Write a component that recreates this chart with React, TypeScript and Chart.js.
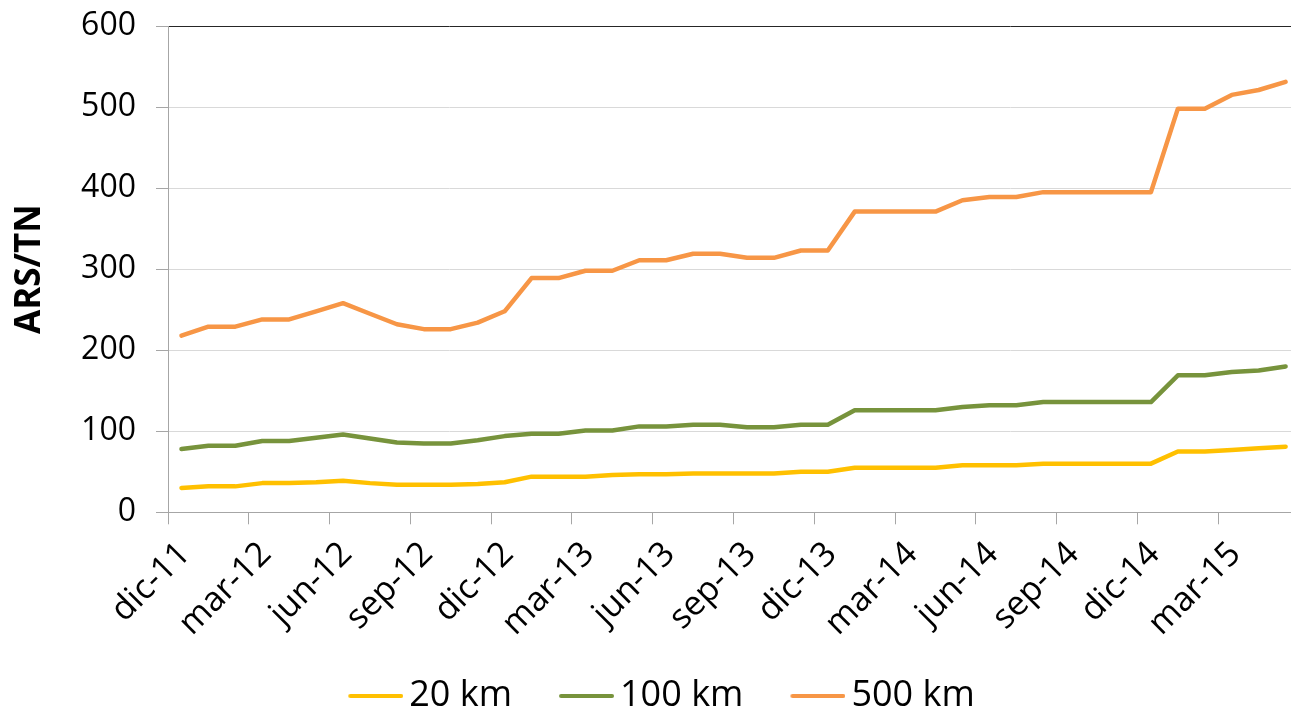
import React, { useEffect, useRef } from "react";
import { Chart, registerables } from "chart.js";

Chart.register(...registerables);

// Months (categories)
const months = [
  "dic-11",
  "ene-12", "feb-12", "mar-12", "abr-12", "may-12", "jun-12",
  "jul-12", "ago-12", "sep-12", "oct-12", "nov-12", "dic-12",
  "ene-13", "feb-13", "mar-13", "abr-13", "may-13", "jun-13",
  "jul-13", "ago-13", "sep-13", "oct-13", "nov-13", "dic-13",
  "ene-14", "feb-14", "mar-14", "abr-14", "may-14", "jun-14",
  "jul-14", "ago-14", "sep-14", "oct-14", "nov-14", "dic-14",
  "ene-15", "feb-15", "mar-15", "abr-15", "may-15",
];

// Series values (ARS/TN)
const km20 = [
  30, 32, 32, 36, 36, 37, 39, 36, 34, 34, 34, 35, 37,
  44, 44, 44, 46, 47, 47, 48, 48, 48, 48, 50, 50,
  55, 55, 55, 55, 58, 58, 58, 60, 60, 60, 60, 60,
  75, 75, 77, 79, 81,
];
const km100 = [
  78, 82, 82, 88, 88, 92, 96, 91, 86, 85, 85, 89, 94,
  97, 97, 101, 101, 106, 106, 108, 108, 105, 105, 108, 108,
  126, 126, 126, 126, 130, 132, 132, 136, 136, 136, 136, 136,
  169, 169, 173, 175, 180,
];
const km500 = [
  218, 229, 229, 238, 238, 248, 258, 245, 232, 226, 226, 234, 248,
  289, 289, 298, 298, 311, 311, 319, 319, 314, 314, 323, 323,
  371, 371, 371, 371, 385, 389, 389, 395, 395, 395, 395, 395,
  498, 498, 515, 521, 531,
];

const seriesNames = ["20 km", "100 km", "500 km"];
const seriesColors = ["#FFC000", "#77933C", "#F79646"];
const seriesValues = [km20, km100, km500];

// Y axis ticks
const yMin = 0;
const yMax = 600;
const yStep = 100;
// Every third month is labelled
const labelEvery = 3;

const FONT = "'Open Sans', 'Noto Sans', sans-serif";

// Legend symbol: a short line placed at the right end of a wider box,
// so the blank left part acts as the gap between legend items.
function legendLine(color: string): HTMLCanvasElement {
  const c = document.createElement("canvas");
  c.width = 108;
  c.height = 8;
  const g = c.getContext("2d")!;
  g.strokeStyle = color;
  g.lineWidth = 4;
  g.lineCap = "round";
  g.beginPath();
  g.moveTo(55, 4);
  g.lineTo(106, 4);
  g.stroke();
  return c;
}

export default function App() {
  const ref = useRef<HTMLCanvasElement | null>(null);

  useEffect(() => {
    if (!ref.current) return;
    const datasets = seriesValues.map((vals, s) => ({
      label: seriesNames[s],
      data: vals.map((v, i) => ({ x: i, y: v })),
      borderColor: seriesColors[s],
      backgroundColor: seriesColors[s],
      borderWidth: 4.5,
      pointRadius: 0,
      pointHoverRadius: 0,
      tension: 0,
      fill: false,
      borderCapStyle: "round" as const,
      borderJoinStyle: "round" as const,
    }));

    const chart = new Chart(ref.current, {
      type: "line",
      data: { datasets },
      options: {
        animation: false,
        responsive: false,
        maintainAspectRatio: false,
        layout: { padding: { left: -9, right: 0, top: 26, bottom: -11 } },
        plugins: {
          tooltip: { enabled: false },
          legend: {
            position: "bottom",
            labels: {
              usePointStyle: true,
              pointStyleWidth: 84,
              padding: 6,
              color: "#000",
              font: { family: FONT, size: 36 },
              generateLabels: (ch: any) => {
                const items = (Chart.defaults as any).plugins.legend.labels.generateLabels(ch);
                return items.map((it: any) => ({
                  ...it,
                  pointStyle: legendLine(seriesColors[it.datasetIndex]),
                }));
              },
            },
          },
        },
        scales: {
          x: {
            type: "linear",
            min: -0.5,
            max: 41.2,
            afterBuildTicks: (scale: any) => {
              scale.ticks = months
                .map((_, i) => i)
                .filter((i) => i % labelEvery === 0)
                .map((i) => ({ value: i - 0.5 }));
            },
            afterFit: (scale: any) => {
              scale.height = 159.7;
            },
            grid: {
              drawOnChartArea: false,
              drawTicks: true,
              tickLength: 12,
              color: "#a6a6a6",
              lineWidth: 1,
            },
            border: { display: true, color: "#a6a6a6", width: 1 },
            ticks: {
              autoSkip: false,
              minRotation: 45,
              maxRotation: 45,
              padding: 10,
              labelOffset: 17,
              color: "#000",
              font: { family: FONT, size: 34 },
              callback: (v: any) => months[Math.round(Number(v) + 0.5)] ?? "",
            },
          },
          y: {
            min: yMin,
            max: yMax,
            afterFit: (scale: any) => {
              scale.width = 177;
              scale.paddingTop = 0;
              scale.paddingBottom = 0;
            },
            grid: {
              color: (ctx: any) =>
                ctx.tick && ctx.tick.value === yMax ? "#262626" : "#d9d9d9",
              tickColor: "#a6a6a6",
              tickLength: 12,
              lineWidth: 1,
            },
            border: { display: true, color: "#a6a6a6", width: 1 },
            ticks: {
              stepSize: yStep,
              padding: 20,
              color: "#000",
              font: { family: FONT, size: 32 },
            },
            title: {
              display: true,
              text: "ARS/TN",
              color: "#000",
              font: { family: FONT, size: 35, weight: "bold" },
              padding: { top: 18, bottom: 0 },
            },
          },
        },
      },
    });
    return () => chart.destroy();
  }, []);

  return (
    <div
      style={{
        position: "fixed",
        left: 0,
        top: 0,
        width: 1291,
        height: 713,
        background: "#fff",
      }}
    >
      <canvas ref={ref} width={1291} height={713} />
    </div>
  );
}
